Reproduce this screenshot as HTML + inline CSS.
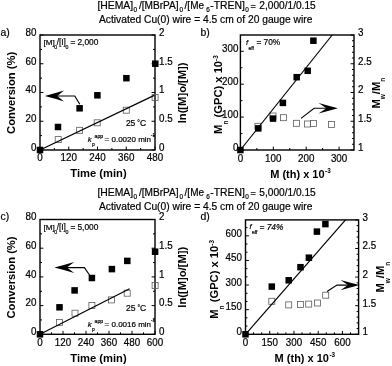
<!DOCTYPE html>
<html><head><meta charset="utf-8"><style>
html,body{margin:0;padding:0;background:#fff;}
svg{display:block;filter:blur(0.4px);}
text{font-family:"Liberation Sans", sans-serif;fill:#000;stroke:#000;stroke-width:0.2px;}
text[font-weight="bold"]{stroke-width:0.0px;}
</style></head><body>
<svg width="392" height="366" viewBox="0 0 392 366">
<rect width="392" height="366" fill="#fff"/>
<text x="97.40" y="9.30" font-size="10.4">[HEMA]</text>
<text x="133.50" y="11.60" font-size="6.4">0</text>
<text x="138.90" y="9.30" font-size="10.4" textLength="39.7" lengthAdjust="spacingAndGlyphs">/[MBrPA]</text>
<text x="179.40" y="11.60" font-size="6.4">0</text>
<text x="184.60" y="9.30" font-size="10.4" textLength="19.4" lengthAdjust="spacingAndGlyphs">/[Me</text>
<text x="206.20" y="11.60" font-size="6.4">6</text>
<text x="210.20" y="9.30" font-size="10.4">-TREN]</text>
<text x="245.20" y="11.60" font-size="6.4">0</text>
<text x="250.60" y="9.30" font-size="9.2">=</text>
<text x="259.30" y="9.30" font-size="10.4" textLength="56.4" lengthAdjust="spacingAndGlyphs">2,000/1/0.15</text>
<text x="99.00" y="22.80" font-size="10.25">Activated Cu(0) wire = 4.5 cm of 20 gauge wire</text>
<text x="97.40" y="196.40" font-size="10.4">[HEMA]</text>
<text x="133.50" y="198.70" font-size="6.4">0</text>
<text x="138.90" y="196.40" font-size="10.4" textLength="39.7" lengthAdjust="spacingAndGlyphs">/[MBrPA]</text>
<text x="179.40" y="198.70" font-size="6.4">0</text>
<text x="184.60" y="196.40" font-size="10.4" textLength="19.4" lengthAdjust="spacingAndGlyphs">/[Me</text>
<text x="206.20" y="198.70" font-size="6.4">6</text>
<text x="210.20" y="196.40" font-size="10.4">-TREN]</text>
<text x="245.20" y="198.70" font-size="6.4">0</text>
<text x="250.60" y="196.40" font-size="9.2">=</text>
<text x="259.30" y="196.40" font-size="10.4" textLength="56.4" lengthAdjust="spacingAndGlyphs">5,000/1/0.15</text>
<text x="99.00" y="209.70" font-size="10.25">Activated Cu(0) wire = 4.5 cm of 20 gauge wire</text>
<text x="0.60" y="35.80" font-size="10.4">a)</text>
<text x="200.50" y="36.00" font-size="10.4">b)</text>
<text x="0.60" y="220.20" font-size="10.4">c)</text>
<text x="200.50" y="220.40" font-size="10.4">d)</text>
<rect x="40" y="35" width="115.00" height="115.00" fill="none" stroke="#000" stroke-width="1.4"/>
<line x1="40.00" y1="150.00" x2="43.40" y2="150.00" stroke="#000" stroke-width="1.0"/>
<line x1="40.00" y1="135.62" x2="42.00" y2="135.62" stroke="#000" stroke-width="1.0"/>
<line x1="40.00" y1="121.25" x2="43.40" y2="121.25" stroke="#000" stroke-width="1.0"/>
<line x1="40.00" y1="106.88" x2="42.00" y2="106.88" stroke="#000" stroke-width="1.0"/>
<line x1="40.00" y1="92.50" x2="43.40" y2="92.50" stroke="#000" stroke-width="1.0"/>
<line x1="40.00" y1="78.12" x2="42.00" y2="78.12" stroke="#000" stroke-width="1.0"/>
<line x1="40.00" y1="63.75" x2="43.40" y2="63.75" stroke="#000" stroke-width="1.0"/>
<line x1="40.00" y1="49.38" x2="42.00" y2="49.38" stroke="#000" stroke-width="1.0"/>
<line x1="40.00" y1="35.00" x2="43.40" y2="35.00" stroke="#000" stroke-width="1.0"/>
<line x1="155.00" y1="150.00" x2="151.60" y2="150.00" stroke="#000" stroke-width="1.0"/>
<line x1="155.00" y1="135.62" x2="153.00" y2="135.62" stroke="#000" stroke-width="1.0"/>
<line x1="155.00" y1="121.25" x2="151.60" y2="121.25" stroke="#000" stroke-width="1.0"/>
<line x1="155.00" y1="106.88" x2="153.00" y2="106.88" stroke="#000" stroke-width="1.0"/>
<line x1="155.00" y1="92.50" x2="151.60" y2="92.50" stroke="#000" stroke-width="1.0"/>
<line x1="155.00" y1="78.12" x2="153.00" y2="78.12" stroke="#000" stroke-width="1.0"/>
<line x1="155.00" y1="63.75" x2="151.60" y2="63.75" stroke="#000" stroke-width="1.0"/>
<line x1="155.00" y1="49.38" x2="153.00" y2="49.38" stroke="#000" stroke-width="1.0"/>
<line x1="155.00" y1="35.00" x2="151.60" y2="35.00" stroke="#000" stroke-width="1.0"/>
<line x1="40.00" y1="150.00" x2="40.00" y2="146.60" stroke="#000" stroke-width="1.0"/>
<line x1="54.38" y1="150.00" x2="54.38" y2="148.00" stroke="#000" stroke-width="1.0"/>
<line x1="68.75" y1="150.00" x2="68.75" y2="146.60" stroke="#000" stroke-width="1.0"/>
<line x1="83.12" y1="150.00" x2="83.12" y2="148.00" stroke="#000" stroke-width="1.0"/>
<line x1="97.50" y1="150.00" x2="97.50" y2="146.60" stroke="#000" stroke-width="1.0"/>
<line x1="111.88" y1="150.00" x2="111.88" y2="148.00" stroke="#000" stroke-width="1.0"/>
<line x1="126.25" y1="150.00" x2="126.25" y2="146.60" stroke="#000" stroke-width="1.0"/>
<line x1="140.62" y1="150.00" x2="140.62" y2="148.00" stroke="#000" stroke-width="1.0"/>
<line x1="155.00" y1="150.00" x2="155.00" y2="146.60" stroke="#000" stroke-width="1.0"/>
<text x="0" y="0" font-size="9.8" text-anchor="end" transform="translate(36.40 150.80) scale(1 1.1)">0</text>
<text x="0" y="0" font-size="9.8" text-anchor="end" transform="translate(36.40 122.05) scale(1 1.1)">20</text>
<text x="0" y="0" font-size="9.8" text-anchor="end" transform="translate(36.40 93.30) scale(1 1.1)">40</text>
<text x="0" y="0" font-size="9.8" text-anchor="end" transform="translate(36.40 64.55) scale(1 1.1)">60</text>
<text x="0" y="0" font-size="9.8" text-anchor="end" transform="translate(36.40 35.80) scale(1 1.1)">80</text>
<text x="0" y="0" font-size="9.8" transform="translate(159.00 150.80) scale(1 1.1)">0</text>
<text x="0" y="0" font-size="9.8" transform="translate(159.00 122.05) scale(1 1.1)">0.5</text>
<text x="0" y="0" font-size="9.8" transform="translate(159.00 93.30) scale(1 1.1)">1</text>
<text x="0" y="0" font-size="9.8" transform="translate(159.00 64.55) scale(1 1.1)">1.5</text>
<text x="0" y="0" font-size="9.8" transform="translate(159.00 35.80) scale(1 1.1)">2</text>
<text x="0" y="0" font-size="9.8" text-anchor="middle" transform="translate(40.00 161.20) scale(1 1.1)">0</text>
<text x="0" y="0" font-size="9.8" text-anchor="middle" transform="translate(68.75 161.20) scale(1 1.1)">120</text>
<text x="0" y="0" font-size="9.8" text-anchor="middle" transform="translate(97.50 161.20) scale(1 1.1)">240</text>
<text x="0" y="0" font-size="9.8" text-anchor="middle" transform="translate(126.25 161.20) scale(1 1.1)">360</text>
<text x="0" y="0" font-size="9.8" text-anchor="middle" transform="translate(155.00 161.20) scale(1 1.1)">480</text>
<rect x="55.20" y="136.60" width="6.0" height="6.0" fill="none" stroke="#5c5c5c" stroke-width="0.8"/>
<rect x="76.60" y="127.30" width="6.0" height="6.0" fill="none" stroke="#5c5c5c" stroke-width="0.8"/>
<rect x="94.20" y="119.80" width="6.0" height="6.0" fill="none" stroke="#5c5c5c" stroke-width="0.8"/>
<rect x="123.30" y="107.20" width="6.0" height="6.0" fill="none" stroke="#5c5c5c" stroke-width="0.8"/>
<rect x="152.10" y="94.50" width="6.0" height="6.0" fill="none" stroke="#5c5c5c" stroke-width="0.8"/>
<line x1="40.00" y1="150.00" x2="154.20" y2="95.40" stroke="#000" stroke-width="1.2"/>
<rect x="36.75" y="146.75" width="6.5" height="6.5" fill="#000"/>
<rect x="54.75" y="123.75" width="6.5" height="6.5" fill="#000"/>
<rect x="76.35" y="105.05" width="6.5" height="6.5" fill="#000"/>
<rect x="94.15" y="92.05" width="6.5" height="6.5" fill="#000"/>
<rect x="123.15" y="74.95" width="6.5" height="6.5" fill="#000"/>
<rect x="152.05" y="60.45" width="6.5" height="6.5" fill="#000"/>
<path d="M79.80 104.20 L74.80 96.00 L56.00 96.00" stroke="#000" stroke-width="1.15" fill="none"/>
<path d="M44.80 96.00 Q54.40 98.43 64.00 101.40 L57.30 96.00 L64.00 90.60 Q54.40 93.57 44.80 96.00Z" fill="#000"/>
<text x="43.50" y="45.20" font-size="8.1">[M]</text>
<text x="54.20" y="49.10" font-size="5.2">0</text>
<text x="56.70" y="45.20" font-size="8.3">/[I]</text>
<text x="65.40" y="49.20" font-size="5.2">0</text>
<text x="70.50" y="45.20" font-size="8.4">=</text>
<text x="77.40" y="45.20" font-size="8.4">2,000</text>
<text x="125.90" y="126.20" font-size="8.5">25</text>
<text x="137.30" y="125.00" font-size="6.5">&#176;</text>
<text x="139.90" y="126.20" font-size="8.5">C</text>
<text x="87.80" y="142.00" font-size="7.8" font-style="italic">k</text>
<text x="92.10" y="146.10" font-size="4.8">p</text>
<text x="94.60" y="137.70" font-size="5.2">app</text>
<text x="104.60" y="141.50" font-size="8.0">= 0.0020 min</text>
<text x="151.00" y="137.30" font-size="4.6">-1</text>
<text x="70.30" y="177.40" font-size="11.2" font-weight="bold">Time (min)</text>
<text x="15.40" y="133.90" font-size="11.2" font-weight="bold" transform="rotate(-90 15.40 133.90)">Conversion (%)</text>
<text x="185.80" y="123.30" font-size="11.2" font-weight="bold" transform="rotate(-90 185.80 123.30)">ln([M]o/[M])</text>
<rect x="40" y="219.5" width="115.00" height="114.80" fill="none" stroke="#000" stroke-width="1.4"/>
<line x1="40.00" y1="334.30" x2="43.40" y2="334.30" stroke="#000" stroke-width="1.0"/>
<line x1="40.00" y1="319.95" x2="42.00" y2="319.95" stroke="#000" stroke-width="1.0"/>
<line x1="40.00" y1="305.60" x2="43.40" y2="305.60" stroke="#000" stroke-width="1.0"/>
<line x1="40.00" y1="291.25" x2="42.00" y2="291.25" stroke="#000" stroke-width="1.0"/>
<line x1="40.00" y1="276.90" x2="43.40" y2="276.90" stroke="#000" stroke-width="1.0"/>
<line x1="40.00" y1="262.55" x2="42.00" y2="262.55" stroke="#000" stroke-width="1.0"/>
<line x1="40.00" y1="248.20" x2="43.40" y2="248.20" stroke="#000" stroke-width="1.0"/>
<line x1="40.00" y1="233.85" x2="42.00" y2="233.85" stroke="#000" stroke-width="1.0"/>
<line x1="40.00" y1="219.50" x2="43.40" y2="219.50" stroke="#000" stroke-width="1.0"/>
<line x1="155.00" y1="334.30" x2="151.60" y2="334.30" stroke="#000" stroke-width="1.0"/>
<line x1="155.00" y1="319.95" x2="153.00" y2="319.95" stroke="#000" stroke-width="1.0"/>
<line x1="155.00" y1="305.60" x2="151.60" y2="305.60" stroke="#000" stroke-width="1.0"/>
<line x1="155.00" y1="291.25" x2="153.00" y2="291.25" stroke="#000" stroke-width="1.0"/>
<line x1="155.00" y1="276.90" x2="151.60" y2="276.90" stroke="#000" stroke-width="1.0"/>
<line x1="155.00" y1="262.55" x2="153.00" y2="262.55" stroke="#000" stroke-width="1.0"/>
<line x1="155.00" y1="248.20" x2="151.60" y2="248.20" stroke="#000" stroke-width="1.0"/>
<line x1="155.00" y1="233.85" x2="153.00" y2="233.85" stroke="#000" stroke-width="1.0"/>
<line x1="155.00" y1="219.50" x2="151.60" y2="219.50" stroke="#000" stroke-width="1.0"/>
<line x1="40.00" y1="334.30" x2="40.00" y2="330.90" stroke="#000" stroke-width="1.0"/>
<line x1="51.50" y1="334.30" x2="51.50" y2="332.30" stroke="#000" stroke-width="1.0"/>
<line x1="63.00" y1="334.30" x2="63.00" y2="330.90" stroke="#000" stroke-width="1.0"/>
<line x1="74.50" y1="334.30" x2="74.50" y2="332.30" stroke="#000" stroke-width="1.0"/>
<line x1="86.00" y1="334.30" x2="86.00" y2="330.90" stroke="#000" stroke-width="1.0"/>
<line x1="97.50" y1="334.30" x2="97.50" y2="332.30" stroke="#000" stroke-width="1.0"/>
<line x1="109.00" y1="334.30" x2="109.00" y2="330.90" stroke="#000" stroke-width="1.0"/>
<line x1="120.50" y1="334.30" x2="120.50" y2="332.30" stroke="#000" stroke-width="1.0"/>
<line x1="132.00" y1="334.30" x2="132.00" y2="330.90" stroke="#000" stroke-width="1.0"/>
<line x1="143.50" y1="334.30" x2="143.50" y2="332.30" stroke="#000" stroke-width="1.0"/>
<line x1="155.00" y1="334.30" x2="155.00" y2="330.90" stroke="#000" stroke-width="1.0"/>
<text x="0" y="0" font-size="9.8" text-anchor="end" transform="translate(36.40 335.10) scale(1 1.1)">0</text>
<text x="0" y="0" font-size="9.8" text-anchor="end" transform="translate(36.40 306.40) scale(1 1.1)">20</text>
<text x="0" y="0" font-size="9.8" text-anchor="end" transform="translate(36.40 277.70) scale(1 1.1)">40</text>
<text x="0" y="0" font-size="9.8" text-anchor="end" transform="translate(36.40 249.00) scale(1 1.1)">60</text>
<text x="0" y="0" font-size="9.8" text-anchor="end" transform="translate(36.40 220.30) scale(1 1.1)">80</text>
<text x="0" y="0" font-size="9.8" transform="translate(159.00 335.10) scale(1 1.1)">0</text>
<text x="0" y="0" font-size="9.8" transform="translate(159.00 306.40) scale(1 1.1)">0.5</text>
<text x="0" y="0" font-size="9.8" transform="translate(159.00 277.70) scale(1 1.1)">1</text>
<text x="0" y="0" font-size="9.8" transform="translate(159.00 249.00) scale(1 1.1)">1.5</text>
<text x="0" y="0" font-size="9.8" transform="translate(159.00 220.30) scale(1 1.1)">2</text>
<text x="0" y="0" font-size="9.8" text-anchor="middle" transform="translate(40.00 345.50) scale(1 1.1)">0</text>
<text x="0" y="0" font-size="9.8" text-anchor="middle" transform="translate(63.00 345.50) scale(1 1.1)">120</text>
<text x="0" y="0" font-size="9.8" text-anchor="middle" transform="translate(86.00 345.50) scale(1 1.1)">240</text>
<text x="0" y="0" font-size="9.8" text-anchor="middle" transform="translate(109.00 345.50) scale(1 1.1)">360</text>
<text x="0" y="0" font-size="9.8" text-anchor="middle" transform="translate(132.00 345.50) scale(1 1.1)">480</text>
<text x="0" y="0" font-size="9.8" text-anchor="middle" transform="translate(155.00 345.50) scale(1 1.1)">600</text>
<rect x="56.50" y="319.40" width="6.0" height="6.0" fill="none" stroke="#5c5c5c" stroke-width="0.8"/>
<rect x="72.00" y="310.20" width="6.0" height="6.0" fill="none" stroke="#5c5c5c" stroke-width="0.8"/>
<rect x="88.90" y="302.50" width="6.0" height="6.0" fill="none" stroke="#5c5c5c" stroke-width="0.8"/>
<rect x="108.50" y="296.90" width="6.0" height="6.0" fill="none" stroke="#5c5c5c" stroke-width="0.8"/>
<rect x="124.20" y="290.20" width="6.0" height="6.0" fill="none" stroke="#5c5c5c" stroke-width="0.8"/>
<rect x="152.10" y="282.50" width="6.0" height="6.0" fill="none" stroke="#5c5c5c" stroke-width="0.8"/>
<line x1="40.00" y1="334.30" x2="129.60" y2="288.80" stroke="#000" stroke-width="1.2"/>
<rect x="36.75" y="331.05" width="6.5" height="6.5" fill="#000"/>
<rect x="56.25" y="304.05" width="6.5" height="6.5" fill="#000"/>
<rect x="71.35" y="287.15" width="6.5" height="6.5" fill="#000"/>
<rect x="88.65" y="274.75" width="6.5" height="6.5" fill="#000"/>
<rect x="108.65" y="265.85" width="6.5" height="6.5" fill="#000"/>
<rect x="124.05" y="257.65" width="6.5" height="6.5" fill="#000"/>
<rect x="151.85" y="248.45" width="6.5" height="6.5" fill="#000"/>
<path d="M89.50 275.00 L84.40 267.60 L65.00 267.60" stroke="#000" stroke-width="1.15" fill="none"/>
<path d="M54.40 267.60 Q64.30 270.08 74.20 273.10 L66.90 267.60 L74.20 262.10 Q64.30 265.12 54.40 267.60Z" fill="#000"/>
<text x="43.50" y="230.20" font-size="8.1">[M]</text>
<text x="54.20" y="234.10" font-size="5.2">0</text>
<text x="56.70" y="230.20" font-size="8.3">/[I]</text>
<text x="65.40" y="234.20" font-size="5.2">0</text>
<text x="70.50" y="230.20" font-size="8.4">=</text>
<text x="77.40" y="230.20" font-size="8.4">5,000</text>
<text x="126.10" y="310.70" font-size="8.5">25</text>
<text x="137.50" y="309.50" font-size="6.5">&#176;</text>
<text x="140.10" y="310.70" font-size="8.5">C</text>
<text x="87.80" y="327.00" font-size="7.8" font-style="italic">k</text>
<text x="92.10" y="331.10" font-size="4.8">p</text>
<text x="94.60" y="322.70" font-size="5.2">app</text>
<text x="104.60" y="326.50" font-size="8.0">= 0.0016 min</text>
<text x="151.00" y="322.30" font-size="4.6">-1</text>
<text x="70.30" y="361.80" font-size="11.2" font-weight="bold">Time (min)</text>
<text x="15.40" y="318.50" font-size="11.2" font-weight="bold" transform="rotate(-90 15.40 318.50)">Conversion (%)</text>
<text x="185.80" y="307.70" font-size="11.2" font-weight="bold" transform="rotate(-90 185.80 307.70)">ln([M]o/[M])</text>
<rect x="240.4" y="35" width="113.60" height="115.00" fill="none" stroke="#000" stroke-width="1.4"/>
<line x1="240.40" y1="150.00" x2="243.80" y2="150.00" stroke="#000" stroke-width="1.0"/>
<line x1="240.40" y1="133.55" x2="242.40" y2="133.55" stroke="#000" stroke-width="1.0"/>
<line x1="240.40" y1="117.10" x2="243.80" y2="117.10" stroke="#000" stroke-width="1.0"/>
<line x1="240.40" y1="100.64" x2="242.40" y2="100.64" stroke="#000" stroke-width="1.0"/>
<line x1="240.40" y1="84.19" x2="243.80" y2="84.19" stroke="#000" stroke-width="1.0"/>
<line x1="240.40" y1="67.74" x2="242.40" y2="67.74" stroke="#000" stroke-width="1.0"/>
<line x1="240.40" y1="51.29" x2="243.80" y2="51.29" stroke="#000" stroke-width="1.0"/>
<line x1="354.00" y1="150.00" x2="350.60" y2="150.00" stroke="#000" stroke-width="1.0"/>
<line x1="354.00" y1="144.25" x2="352.00" y2="144.25" stroke="#000" stroke-width="1.0"/>
<line x1="354.00" y1="138.50" x2="352.00" y2="138.50" stroke="#000" stroke-width="1.0"/>
<line x1="354.00" y1="132.75" x2="352.00" y2="132.75" stroke="#000" stroke-width="1.0"/>
<line x1="354.00" y1="127.00" x2="352.00" y2="127.00" stroke="#000" stroke-width="1.0"/>
<line x1="354.00" y1="121.25" x2="350.60" y2="121.25" stroke="#000" stroke-width="1.0"/>
<line x1="354.00" y1="115.50" x2="352.00" y2="115.50" stroke="#000" stroke-width="1.0"/>
<line x1="354.00" y1="109.75" x2="352.00" y2="109.75" stroke="#000" stroke-width="1.0"/>
<line x1="354.00" y1="104.00" x2="352.00" y2="104.00" stroke="#000" stroke-width="1.0"/>
<line x1="354.00" y1="98.25" x2="352.00" y2="98.25" stroke="#000" stroke-width="1.0"/>
<line x1="354.00" y1="92.50" x2="350.60" y2="92.50" stroke="#000" stroke-width="1.0"/>
<line x1="354.00" y1="86.75" x2="352.00" y2="86.75" stroke="#000" stroke-width="1.0"/>
<line x1="354.00" y1="81.00" x2="352.00" y2="81.00" stroke="#000" stroke-width="1.0"/>
<line x1="354.00" y1="75.25" x2="352.00" y2="75.25" stroke="#000" stroke-width="1.0"/>
<line x1="354.00" y1="69.50" x2="352.00" y2="69.50" stroke="#000" stroke-width="1.0"/>
<line x1="354.00" y1="63.75" x2="350.60" y2="63.75" stroke="#000" stroke-width="1.0"/>
<line x1="354.00" y1="58.00" x2="352.00" y2="58.00" stroke="#000" stroke-width="1.0"/>
<line x1="354.00" y1="52.25" x2="352.00" y2="52.25" stroke="#000" stroke-width="1.0"/>
<line x1="354.00" y1="46.50" x2="352.00" y2="46.50" stroke="#000" stroke-width="1.0"/>
<line x1="354.00" y1="40.75" x2="352.00" y2="40.75" stroke="#000" stroke-width="1.0"/>
<line x1="354.00" y1="35.00" x2="350.60" y2="35.00" stroke="#000" stroke-width="1.0"/>
<line x1="240.40" y1="150.00" x2="240.40" y2="146.60" stroke="#000" stroke-width="1.0"/>
<line x1="256.85" y1="150.00" x2="256.85" y2="148.00" stroke="#000" stroke-width="1.0"/>
<line x1="273.30" y1="150.00" x2="273.30" y2="146.60" stroke="#000" stroke-width="1.0"/>
<line x1="289.75" y1="150.00" x2="289.75" y2="148.00" stroke="#000" stroke-width="1.0"/>
<line x1="306.20" y1="150.00" x2="306.20" y2="146.60" stroke="#000" stroke-width="1.0"/>
<line x1="322.65" y1="150.00" x2="322.65" y2="148.00" stroke="#000" stroke-width="1.0"/>
<line x1="339.10" y1="150.00" x2="339.10" y2="146.60" stroke="#000" stroke-width="1.0"/>
<text x="0" y="0" font-size="9.8" text-anchor="end" transform="translate(238.40 150.80) scale(1 1.1)">0</text>
<text x="0" y="0" font-size="9.8" text-anchor="end" transform="translate(238.40 117.90) scale(1 1.1)">100</text>
<text x="0" y="0" font-size="9.8" text-anchor="end" transform="translate(238.40 84.99) scale(1 1.1)">200</text>
<text x="0" y="0" font-size="9.8" text-anchor="end" transform="translate(238.40 52.09) scale(1 1.1)">300</text>
<text x="0" y="0" font-size="9.8" transform="translate(358.00 150.80) scale(1 1.1)">1</text>
<text x="0" y="0" font-size="9.8" transform="translate(358.00 122.05) scale(1 1.1)">1.5</text>
<text x="0" y="0" font-size="9.8" transform="translate(358.00 93.30) scale(1 1.1)">2</text>
<text x="0" y="0" font-size="9.8" transform="translate(358.00 64.55) scale(1 1.1)">2.5</text>
<text x="0" y="0" font-size="9.8" transform="translate(358.00 35.80) scale(1 1.1)">3</text>
<text x="0" y="0" font-size="9.8" text-anchor="middle" transform="translate(240.40 161.80) scale(1 1.1)">0</text>
<text x="0" y="0" font-size="9.8" text-anchor="middle" transform="translate(273.30 161.80) scale(1 1.1)">100</text>
<text x="0" y="0" font-size="9.8" text-anchor="middle" transform="translate(306.20 161.80) scale(1 1.1)">200</text>
<text x="0" y="0" font-size="9.8" text-anchor="middle" transform="translate(339.10 161.80) scale(1 1.1)">300</text>
<rect x="254.90" y="123.30" width="6.0" height="6.0" fill="none" stroke="#5c5c5c" stroke-width="0.8"/>
<rect x="270.00" y="113.00" width="6.0" height="6.0" fill="none" stroke="#5c5c5c" stroke-width="0.8"/>
<rect x="280.40" y="114.70" width="6.0" height="6.0" fill="none" stroke="#5c5c5c" stroke-width="0.8"/>
<rect x="293.50" y="120.30" width="6.0" height="6.0" fill="none" stroke="#5c5c5c" stroke-width="0.8"/>
<rect x="304.40" y="121.00" width="6.0" height="6.0" fill="none" stroke="#5c5c5c" stroke-width="0.8"/>
<rect x="310.40" y="120.50" width="6.0" height="6.0" fill="none" stroke="#5c5c5c" stroke-width="0.8"/>
<rect x="328.50" y="121.40" width="6.0" height="6.0" fill="none" stroke="#5c5c5c" stroke-width="0.8"/>
<line x1="240.40" y1="150.00" x2="332.20" y2="35.00" stroke="#000" stroke-width="1.2"/>
<rect x="237.15" y="146.75" width="6.5" height="6.5" fill="#000"/>
<rect x="255.05" y="125.15" width="6.5" height="6.5" fill="#000"/>
<rect x="269.75" y="115.35" width="6.5" height="6.5" fill="#000"/>
<rect x="279.65" y="99.65" width="6.5" height="6.5" fill="#000"/>
<rect x="293.45" y="73.95" width="6.5" height="6.5" fill="#000"/>
<rect x="304.45" y="67.55" width="6.5" height="6.5" fill="#000"/>
<rect x="310.15" y="37.45" width="6.5" height="6.5" fill="#000"/>
<path d="M301.00 118.40 L314.10 108.20 L328.00 108.20" stroke="#000" stroke-width="1.15" fill="none"/>
<path d="M337.90 108.20 Q328.25 105.55 318.60 102.90 L326.40 108.20 L318.60 113.50 Q328.25 110.85 337.90 108.20Z" fill="#000"/>
<text x="246.00" y="44.70" font-size="7.6" font-style="italic">f</text>
<text x="248.50" y="49.60" font-size="5.0">eff</text>
<text x="256.40" y="44.90" font-size="8.3">= 70%</text>
<text x="270.20" y="177.90" font-size="11.0" font-weight="bold">M (th) x 10</text>
<text x="325.10" y="172.90" font-size="6.3" font-weight="bold">-3</text>
<text x="222.3" y="133.9" font-size="11.2" font-weight="bold" transform="rotate(-90 222.3 133.9)">M<tspan font-size="6.5" dy="5.8">n</tspan><tspan dy="-5.8"> (GPC) x 10</tspan><tspan font-size="6.3" dy="-4.6">-3</tspan></text>
<text x="379.8" y="108.6" font-size="11.2" font-weight="bold" transform="rotate(-90 379.8 108.6)">M<tspan font-size="6.5" dy="5.5">w</tspan><tspan dy="-5.5">/M</tspan><tspan font-size="6.5" dy="5.5">n</tspan></text>
<rect x="245.5" y="219.9" width="113.10" height="114.40" fill="none" stroke="#000" stroke-width="1.4"/>
<line x1="245.50" y1="334.30" x2="248.90" y2="334.30" stroke="#000" stroke-width="1.0"/>
<line x1="245.50" y1="326.09" x2="247.50" y2="326.09" stroke="#000" stroke-width="1.0"/>
<line x1="245.50" y1="317.89" x2="247.50" y2="317.89" stroke="#000" stroke-width="1.0"/>
<line x1="245.50" y1="309.68" x2="248.90" y2="309.68" stroke="#000" stroke-width="1.0"/>
<line x1="245.50" y1="301.47" x2="247.50" y2="301.47" stroke="#000" stroke-width="1.0"/>
<line x1="245.50" y1="293.27" x2="247.50" y2="293.27" stroke="#000" stroke-width="1.0"/>
<line x1="245.50" y1="285.06" x2="248.90" y2="285.06" stroke="#000" stroke-width="1.0"/>
<line x1="245.50" y1="276.85" x2="247.50" y2="276.85" stroke="#000" stroke-width="1.0"/>
<line x1="245.50" y1="268.65" x2="247.50" y2="268.65" stroke="#000" stroke-width="1.0"/>
<line x1="245.50" y1="260.44" x2="248.90" y2="260.44" stroke="#000" stroke-width="1.0"/>
<line x1="245.50" y1="252.23" x2="247.50" y2="252.23" stroke="#000" stroke-width="1.0"/>
<line x1="245.50" y1="244.03" x2="247.50" y2="244.03" stroke="#000" stroke-width="1.0"/>
<line x1="245.50" y1="235.82" x2="248.90" y2="235.82" stroke="#000" stroke-width="1.0"/>
<line x1="245.50" y1="227.61" x2="247.50" y2="227.61" stroke="#000" stroke-width="1.0"/>
<line x1="358.60" y1="334.30" x2="355.20" y2="334.30" stroke="#000" stroke-width="1.0"/>
<line x1="358.60" y1="328.58" x2="356.60" y2="328.58" stroke="#000" stroke-width="1.0"/>
<line x1="358.60" y1="322.86" x2="356.60" y2="322.86" stroke="#000" stroke-width="1.0"/>
<line x1="358.60" y1="317.14" x2="356.60" y2="317.14" stroke="#000" stroke-width="1.0"/>
<line x1="358.60" y1="311.42" x2="356.60" y2="311.42" stroke="#000" stroke-width="1.0"/>
<line x1="358.60" y1="305.70" x2="355.20" y2="305.70" stroke="#000" stroke-width="1.0"/>
<line x1="358.60" y1="299.98" x2="356.60" y2="299.98" stroke="#000" stroke-width="1.0"/>
<line x1="358.60" y1="294.26" x2="356.60" y2="294.26" stroke="#000" stroke-width="1.0"/>
<line x1="358.60" y1="288.54" x2="356.60" y2="288.54" stroke="#000" stroke-width="1.0"/>
<line x1="358.60" y1="282.82" x2="356.60" y2="282.82" stroke="#000" stroke-width="1.0"/>
<line x1="358.60" y1="277.10" x2="355.20" y2="277.10" stroke="#000" stroke-width="1.0"/>
<line x1="358.60" y1="271.38" x2="356.60" y2="271.38" stroke="#000" stroke-width="1.0"/>
<line x1="358.60" y1="265.66" x2="356.60" y2="265.66" stroke="#000" stroke-width="1.0"/>
<line x1="358.60" y1="259.94" x2="356.60" y2="259.94" stroke="#000" stroke-width="1.0"/>
<line x1="358.60" y1="254.22" x2="356.60" y2="254.22" stroke="#000" stroke-width="1.0"/>
<line x1="358.60" y1="248.50" x2="355.20" y2="248.50" stroke="#000" stroke-width="1.0"/>
<line x1="358.60" y1="242.78" x2="356.60" y2="242.78" stroke="#000" stroke-width="1.0"/>
<line x1="358.60" y1="237.06" x2="356.60" y2="237.06" stroke="#000" stroke-width="1.0"/>
<line x1="358.60" y1="231.34" x2="356.60" y2="231.34" stroke="#000" stroke-width="1.0"/>
<line x1="358.60" y1="225.62" x2="356.60" y2="225.62" stroke="#000" stroke-width="1.0"/>
<line x1="358.60" y1="219.90" x2="355.20" y2="219.90" stroke="#000" stroke-width="1.0"/>
<line x1="245.50" y1="334.30" x2="245.50" y2="330.90" stroke="#000" stroke-width="1.0"/>
<line x1="253.58" y1="334.30" x2="253.58" y2="332.30" stroke="#000" stroke-width="1.0"/>
<line x1="261.66" y1="334.30" x2="261.66" y2="332.30" stroke="#000" stroke-width="1.0"/>
<line x1="269.74" y1="334.30" x2="269.74" y2="330.90" stroke="#000" stroke-width="1.0"/>
<line x1="277.81" y1="334.30" x2="277.81" y2="332.30" stroke="#000" stroke-width="1.0"/>
<line x1="285.89" y1="334.30" x2="285.89" y2="332.30" stroke="#000" stroke-width="1.0"/>
<line x1="293.97" y1="334.30" x2="293.97" y2="330.90" stroke="#000" stroke-width="1.0"/>
<line x1="302.05" y1="334.30" x2="302.05" y2="332.30" stroke="#000" stroke-width="1.0"/>
<line x1="310.13" y1="334.30" x2="310.13" y2="332.30" stroke="#000" stroke-width="1.0"/>
<line x1="318.21" y1="334.30" x2="318.21" y2="330.90" stroke="#000" stroke-width="1.0"/>
<line x1="326.29" y1="334.30" x2="326.29" y2="332.30" stroke="#000" stroke-width="1.0"/>
<line x1="334.36" y1="334.30" x2="334.36" y2="332.30" stroke="#000" stroke-width="1.0"/>
<line x1="342.44" y1="334.30" x2="342.44" y2="330.90" stroke="#000" stroke-width="1.0"/>
<line x1="350.52" y1="334.30" x2="350.52" y2="332.30" stroke="#000" stroke-width="1.0"/>
<line x1="358.60" y1="334.30" x2="358.60" y2="332.30" stroke="#000" stroke-width="1.0"/>
<text x="0" y="0" font-size="9.8" text-anchor="end" transform="translate(241.90 335.10) scale(1 1.1)">0</text>
<text x="0" y="0" font-size="9.8" text-anchor="end" transform="translate(241.90 310.48) scale(1 1.1)">150</text>
<text x="0" y="0" font-size="9.8" text-anchor="end" transform="translate(241.90 285.86) scale(1 1.1)">300</text>
<text x="0" y="0" font-size="9.8" text-anchor="end" transform="translate(241.90 261.24) scale(1 1.1)">450</text>
<text x="0" y="0" font-size="9.8" text-anchor="end" transform="translate(241.90 236.62) scale(1 1.1)">600</text>
<text x="0" y="0" font-size="9.8" transform="translate(362.60 335.10) scale(1 1.1)">1</text>
<text x="0" y="0" font-size="9.8" transform="translate(362.60 306.50) scale(1 1.1)">1.5</text>
<text x="0" y="0" font-size="9.8" transform="translate(362.60 277.90) scale(1 1.1)">2</text>
<text x="0" y="0" font-size="9.8" transform="translate(362.60 249.30) scale(1 1.1)">2.5</text>
<text x="0" y="0" font-size="9.8" transform="translate(362.60 220.70) scale(1 1.1)">3</text>
<text x="0" y="0" font-size="9.8" text-anchor="middle" transform="translate(245.50 345.50) scale(1 1.1)">0</text>
<text x="0" y="0" font-size="9.8" text-anchor="middle" transform="translate(269.74 345.50) scale(1 1.1)">150</text>
<text x="0" y="0" font-size="9.8" text-anchor="middle" transform="translate(293.97 345.50) scale(1 1.1)">300</text>
<text x="0" y="0" font-size="9.8" text-anchor="middle" transform="translate(318.21 345.50) scale(1 1.1)">450</text>
<text x="0" y="0" font-size="9.8" text-anchor="middle" transform="translate(342.44 345.50) scale(1 1.1)">600</text>
<rect x="268.80" y="298.30" width="6.0" height="6.0" fill="none" stroke="#5c5c5c" stroke-width="0.8"/>
<rect x="285.70" y="301.90" width="6.0" height="6.0" fill="none" stroke="#5c5c5c" stroke-width="0.8"/>
<rect x="297.50" y="301.40" width="6.0" height="6.0" fill="none" stroke="#5c5c5c" stroke-width="0.8"/>
<rect x="305.70" y="301.10" width="6.0" height="6.0" fill="none" stroke="#5c5c5c" stroke-width="0.8"/>
<rect x="314.40" y="300.00" width="6.0" height="6.0" fill="none" stroke="#5c5c5c" stroke-width="0.8"/>
<rect x="322.70" y="292.20" width="6.0" height="6.0" fill="none" stroke="#5c5c5c" stroke-width="0.8"/>
<line x1="245.50" y1="334.30" x2="345.50" y2="219.90" stroke="#000" stroke-width="1.2"/>
<rect x="242.25" y="331.05" width="6.5" height="6.5" fill="#000"/>
<rect x="268.55" y="283.35" width="6.5" height="6.5" fill="#000"/>
<rect x="285.45" y="277.05" width="6.5" height="6.5" fill="#000"/>
<rect x="297.25" y="263.95" width="6.5" height="6.5" fill="#000"/>
<rect x="305.65" y="254.45" width="6.5" height="6.5" fill="#000"/>
<rect x="313.65" y="228.35" width="6.5" height="6.5" fill="#000"/>
<rect x="322.15" y="220.85" width="6.5" height="6.5" fill="#000"/>
<path d="M327.00 291.60 L337.00 285.10 L350.00 285.10" stroke="#000" stroke-width="1.15" fill="none"/>
<path d="M359.50 285.10 Q350.00 282.50 340.50 279.90 L348.00 285.10 L340.50 290.30 Q350.00 287.70 359.50 285.10Z" fill="#000"/>
<text x="249.40" y="229.30" font-size="7.6" font-style="italic">f</text>
<text x="252.00" y="233.80" font-size="5.0">eff</text>
<text x="259.60" y="229.60" font-size="8.3" font-style="italic">= 74%</text>
<text x="274.60" y="362.00" font-size="11.0" font-weight="bold">M (th) x 10</text>
<text x="329.50" y="357.00" font-size="6.3" font-weight="bold">-3</text>
<text x="218.3" y="318.7" font-size="11.2" font-weight="bold" transform="rotate(-90 218.3 318.7)">M<tspan font-size="6.5" dy="5.8">n</tspan><tspan dy="-5.8"> (GPC) x 10</tspan><tspan font-size="6.3" dy="-4.6">-3</tspan></text>
<text x="384.4" y="292.6" font-size="11.2" font-weight="bold" transform="rotate(-90 384.4 292.6)">M<tspan font-size="6.5" dy="5.5">w</tspan><tspan dy="-5.5">/M</tspan><tspan font-size="6.5" dy="5.5">n</tspan></text>
</svg>
</body></html>
